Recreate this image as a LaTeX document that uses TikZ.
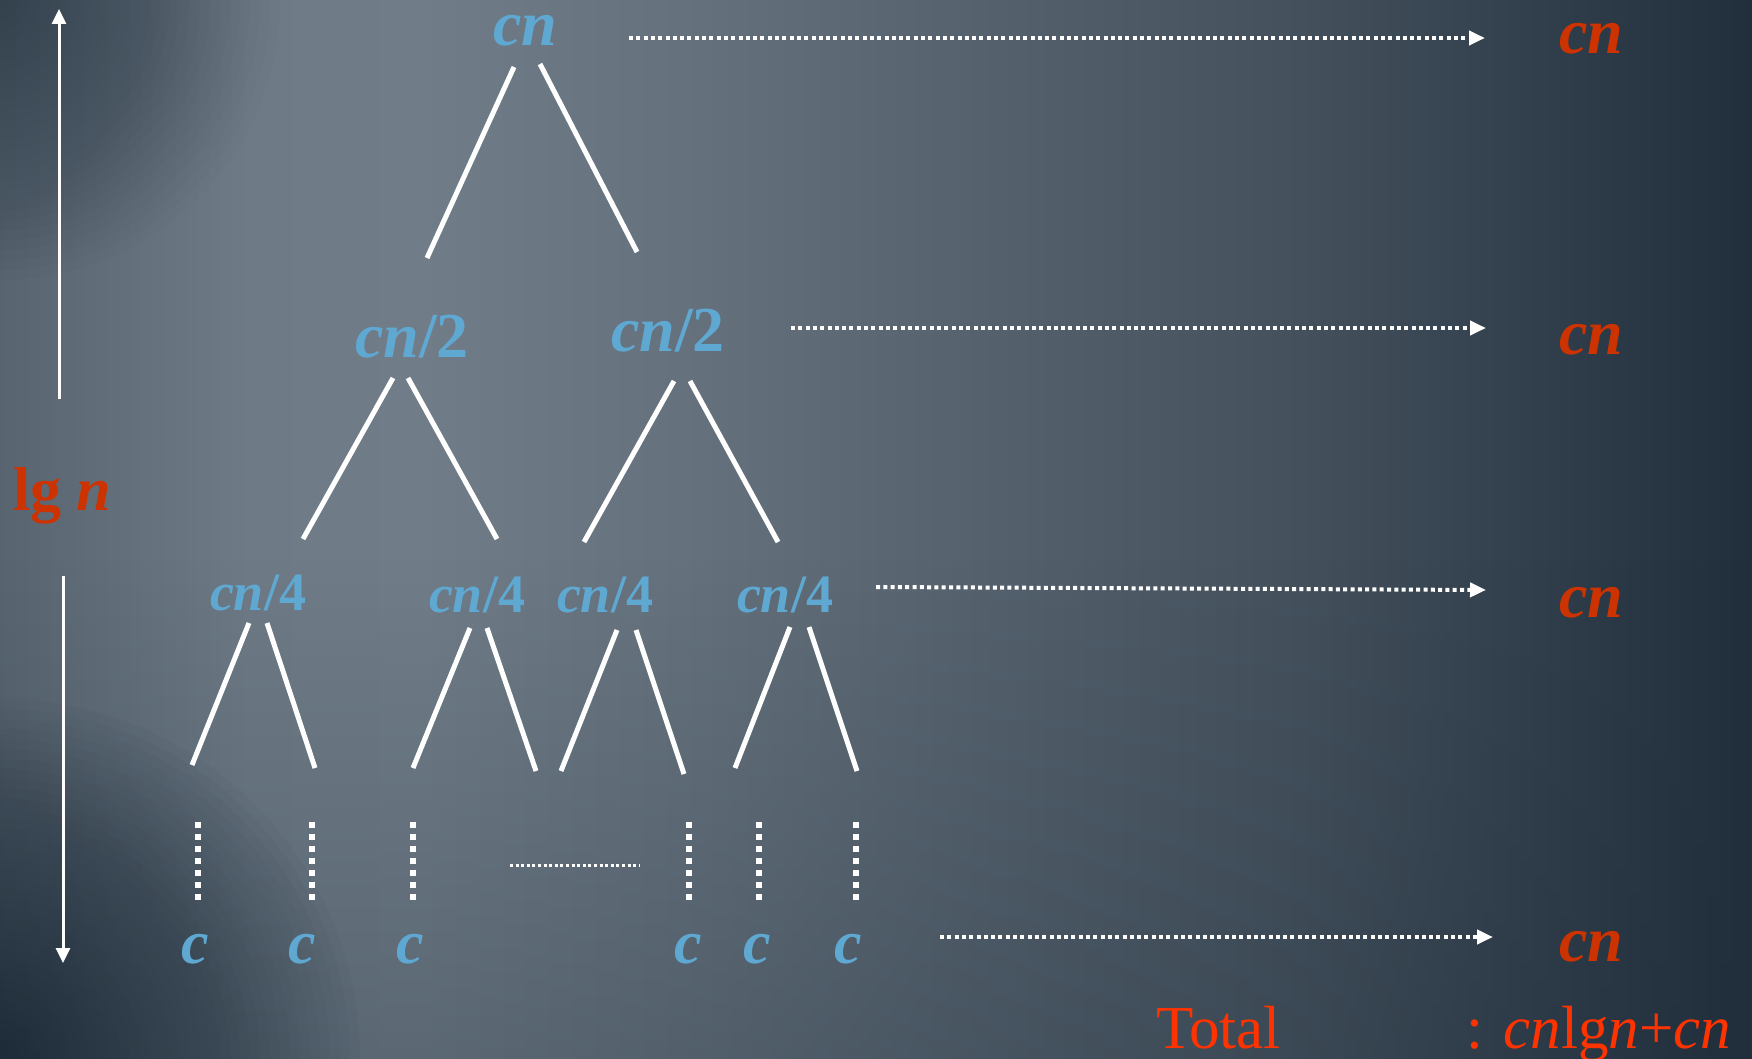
\documentclass[tikz,border=0pt]{standalone}
\usepackage{fontspec}
\setmainfont{Liberation Serif}
\usetikzlibrary{arrows.meta,fadings}

\definecolor{lblue}{RGB}{95,168,210}
\definecolor{sumred}{RGB}{204,51,0}
\definecolor{totred}{RGB}{255,51,0}
\definecolor{bgdark}{RGB}{30,44,58}
% slate background, left to right
\definecolor{bgA}{RGB}{88,101,112}
\definecolor{bgB}{RGB}{110,123,134}
\definecolor{bgC}{RGB}{112,125,136}
\definecolor{bgD}{RGB}{100,113,124}
\definecolor{bgE}{RGB}{84,97,109}
\definecolor{bgF}{RGB}{68,81,93}
\definecolor{bgG}{RGB}{52,65,78}
\definecolor{bgH}{RGB}{33,46,60}

\pgfdeclarehorizontalshading{slatebg}{100bp}{
  color(0bp)=(bgA); color(25bp)=(bgA); color(32.1bp)=(bgB); color(37bp)=(bgC);
  color(45bp)=(bgD); color(53.5bp)=(bgE); color(62.1bp)=(bgF);
  color(67.8bp)=(bgG); color(75bp)=(bgH); color(100bp)=(bgH)}

\newcommand{\boldit}[1]{\textbf{\textit{#1}}}

\begin{document}
\begin{tikzpicture}[x=1pt,y=-1pt,
  treelbl/.style={text=lblue, inner sep=0pt, anchor=base, font=\fontsize{64}{70}\selectfont},
  quarterlbl/.style={treelbl, font=\fontsize{54}{60}\selectfont},
  leaflbl/.style={treelbl, font=\fontsize{62}{68}\selectfont},
  sumlbl/.style={text=sumred, inner sep=0pt, anchor=base, font=\fontsize{64}{70}\selectfont},
  treeedge/.style={draw=white, line width=5pt},
  leafdots/.style={draw=white, line width=6pt, dash pattern=on 6pt off 6pt},
  gapdots/.style={draw=white, line width=3pt, dash pattern=on 3pt off 2.6pt},
  levelarrow/.style={draw=white, line width=4pt, dash pattern=on 4pt off 3.3pt,
    -{Triangle[length=16pt,width=14pt]}},
  heightarrow/.style={draw=white, line width=3pt, -{Triangle[length=15pt,width=14pt]}}
]
\useasboundingbox (0,0) rectangle (1752,1059);

% background: slate gradient, darker toward the bottom and the left corners
\begin{scope}
  \clip (0,0) rectangle (1752,1059);
  \shade[shading=slatebg] (0,0) rectangle (1752,1059);
  \fill[bgdark, opacity=0.25, path fading=north] (0,560) rectangle (1752,1059);
  \foreach \r in {10,20,...,360}
    \fill[bgdark, opacity=0.035] (0,1059) circle (\r pt);
  \foreach \r in {10,20,...,280}
    \fill[bgdark, opacity=0.025] (0,0) circle (\r pt);
\end{scope}

% tree labels
\node[treelbl, text height=36pt] (root) at (525,46) {\boldit{cn}};
\node[treelbl] (h1) at (412,357) {\boldit{cn}\textbf{/2}};
\node[treelbl] (h2) at (668,351) {\boldit{cn}\textbf{/2}};
\node[quarterlbl] (q1) at (258,610) {\boldit{cn}\textbf{/4}};
\node[quarterlbl] (q2) at (477,612) {\boldit{cn}\textbf{/4}};
\node[quarterlbl] (q3) at (605,612) {\boldit{cn}\textbf{/4}};
\node[quarterlbl] (q4) at (785,612) {\boldit{cn}\textbf{/4}};
\foreach \i/\x in {1/195,2/302,3/410,4/688,5/757,6/848}
  \node[leaflbl] (leaf\i) at (\x,963) {\boldit{c}};

% tree edge end points
\coordinate (r1a) at (514,67);  \coordinate (r1b) at (427,258);
\coordinate (r2a) at (540,64);  \coordinate (r2b) at (637,252);
\coordinate (a1a) at (393,378); \coordinate (a1b) at (303,539);
\coordinate (a2a) at (408,378); \coordinate (a2b) at (497,539);
\coordinate (b1a) at (674,381); \coordinate (b1b) at (584,542);
\coordinate (b2a) at (690,381); \coordinate (b2b) at (778,542);
\coordinate (c1a) at (249,623); \coordinate (c1b) at (192,765);
\coordinate (c2a) at (267,623); \coordinate (c2b) at (315,768);
\coordinate (d1a) at (470,628); \coordinate (d1b) at (413,768);
\coordinate (d2a) at (487,628); \coordinate (d2b) at (536,771);
\coordinate (e1a) at (617,630); \coordinate (e1b) at (561,771);
\coordinate (e2a) at (636,630); \coordinate (e2b) at (684,774);
\coordinate (f1a) at (790,627); \coordinate (f1b) at (735,768);
\coordinate (f2a) at (809,627); \coordinate (f2b) at (857,771);

\foreach \e in {r1,r2,a1,a2,b1,b2,c1,c2,d1,d2,e1,e2,f1,f2}
  \draw[treeedge] (\e a) -- (\e b);

% dotted descent to the leaves
\foreach \i/\x in {1/198,2/312,3/413,4/689,5/759,6/856} {
  \coordinate (dt\i) at (\x,822);
  \coordinate (db\i) at (\x,900);
  \draw[leafdots] (dt\i) -- (db\i);
}
\coordinate (gapL) at (510,865);
\coordinate (gapR) at (640,865);
\draw[gapdots] (gapL) -- (gapR);

% per-level sums
\node[sumlbl, text height=36pt] (s1) at (1591,54)  {\boldit{cn}};
\node[sumlbl] (s2) at (1591,354) {\boldit{cn}};
\node[sumlbl] (s3) at (1591,617) {\boldit{cn}};
\node[sumlbl] (s4) at (1591,961) {\boldit{cn}};

\coordinate (l1) at (629,38);  \coordinate (m1) at (1485,38);
\coordinate (l2) at (791,328); \coordinate (m2) at (1486,328);
\coordinate (l3) at (876,587); \coordinate (m3) at (1486,590);
\coordinate (l4) at (940,937); \coordinate (m4) at (1493,937);
\foreach \k in {1,2,3,4}
  \draw[levelarrow] (l\k) -- (m\k);

% tree height
\node[text=sumred, inner sep=0pt, anchor=base west,
      font=\fontsize{62}{68}\selectfont] (lgn) at (13,510) {\textbf{lg} \boldit{n}};
\coordinate (upFrom) at (59,399);  \coordinate (upTo) at (59,9);
\coordinate (dnFrom) at (63,576);  \coordinate (dnTo) at (63,963);
\draw[heightarrow] (upFrom) -- (upTo);
\draw[heightarrow] (dnFrom) -- (dnTo);

% total
\node[text=totred, inner sep=0pt, anchor=base west,
      font=\fontsize{61}{66}\selectfont] (total) at (1156,1048) {Total};
\node[text=totred, inner sep=0pt, anchor=base west,
      font=\fontsize{61}{66}\selectfont] (totalval) at (1466,1048)
      {: \textit{cn}lg\textit{n}+\textit{cn}};
\end{tikzpicture}
\end{document}
